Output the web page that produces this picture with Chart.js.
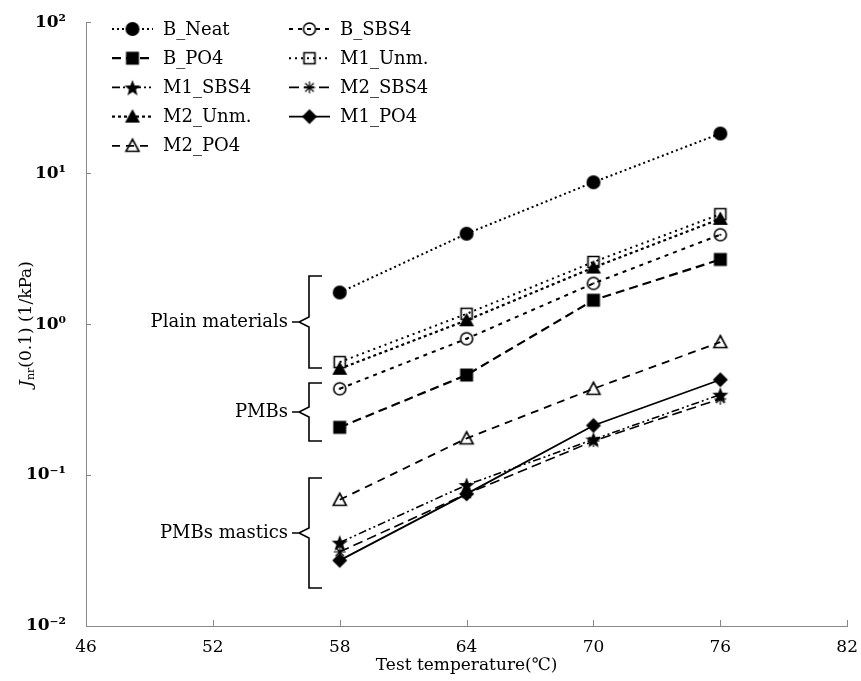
<!DOCTYPE html>
<html>
<head>
<meta charset="utf-8">
<script src="https://cdn.jsdelivr.net/npm/chart.js@4.4.1/dist/chart.umd.min.js"></script>
<style>
  html, body { margin: 0; padding: 0; background: #fff; }
  #wrap { width: 861px; height: 681px; position: relative; }
</style>
</head>
<body>
<div id="wrap"><canvas id="myChart" width="861" height="681"></canvas></div>
<script>
// test temperatures (x)
const temps = [58, 64, 70, 76];
// Jnr(0.1) values, 1/kPa
const bNeat  = [1.62, 3.97, 8.7, 18.3];
const bSbs4  = [0.373, 0.80, 1.86, 3.91];
const bPo4   = [0.207, 0.46, 1.44, 2.68];
const m1Unm  = [0.56, 1.17, 2.58, 5.35];
const m1Sbs4 = [0.0357, 0.086, 0.172, 0.341];
const m2Sbs4 = [0.031, 0.075, 0.168, 0.32];
const m2Unm  = [0.506, 1.06, 2.37, 4.98];
const m1Po4  = [0.0272, 0.075, 0.213, 0.428];
const m2Po4  = [0.0686, 0.175, 0.373, 0.76];

const xTicks = [46, 52, 58, 64, 70, 76, 82];
const yTicks = [0.01, 0.1, 1, 10, 100];
const yTickLabels = ['10\u207B\u00B2', '10\u207B\u00B9', '10\u2070', '10\u00B9', '10\u00B2'];

const FONT = '"DejaVu Serif", serif';

//build marker images
function makeMarker(kind) {
	const c = document.createElement('canvas');
	c.width = 20; c.height = 20;
	const g = c.getContext('2d');
	g.fillStyle = '#000';
	g.strokeStyle = '#000';
	g.lineWidth = 1.6;
	const cx = 10, cy = 10;
	g.beginPath();
	if (kind === 'circleFill') {
		g.arc(cx, cy, 7, 0, Math.PI * 2); g.fill();
	} else if (kind === 'circleOpen') {
		g.arc(cx, cy, 6, 0, Math.PI * 2); g.stroke();
		g.beginPath(); g.arc(cx, cy, 1.1, 0, Math.PI * 2); g.fill();
	} else if (kind === 'squareFill') {
		g.rect(cx - 6.5, cy - 6.5, 13, 13); g.fill();
	} else if (kind === 'squareOpen') {
		g.rect(cx - 5.5, cy - 5.5, 11, 11); g.stroke();
	} else if (kind === 'star5') {
		for (let i = 0; i < 10; i++) {
			const r = i % 2 === 0 ? 8.5 : 3.6;
			const a = -Math.PI / 2 + i * Math.PI / 5;
			const px = cx + r * Math.cos(a), py = cy + 1 + r * Math.sin(a);
			if (i === 0) g.moveTo(px, py); else g.lineTo(px, py);
		}
		g.closePath(); g.fill();
	} else if (kind === 'asterisk') {
		g.lineWidth = 1.2;
		for (let i = 0; i < 4; i++) {
			const a = i * Math.PI / 4;
			g.moveTo(cx - 6 * Math.cos(a), cy - 6 * Math.sin(a));
			g.lineTo(cx + 6 * Math.cos(a), cy + 6 * Math.sin(a));
		}
		g.stroke();
	} else if (kind === 'triFill') {
		g.moveTo(cx, cy - 7.5); g.lineTo(cx + 7.5, cy + 6); g.lineTo(cx - 7.5, cy + 6);
		g.closePath(); g.fill();
	} else if (kind === 'triOpen') {
		g.moveTo(cx, cy - 6.5); g.lineTo(cx + 6.5, cy + 5.5); g.lineTo(cx - 6.5, cy + 5.5);
		g.closePath(); g.stroke();
	} else if (kind === 'diamond') {
		g.moveTo(cx, cy - 7.5); g.lineTo(cx + 7.5, cy); g.lineTo(cx, cy + 7.5); g.lineTo(cx - 7.5, cy);
		g.closePath(); g.fill();
	}
	return c;
}

function pts(vals) {
	return vals.map(function (v, i) { return { x: temps[i], y: v }; });
}

function series(label, vals, marker, dash, width) {
	return {
		label: label,
		data: pts(vals),
		showLine: true,
		borderColor: '#000',
		backgroundColor: '#000',
		borderWidth: width,
		borderDash: dash,
		pointStyle: makeMarker(marker),
		pointRadius: 8,
		pointHoverRadius: 8,
		tension: 0
	};
}

const datasets = [
	series('B_Neat', bNeat, 'circleFill', [2, 3], 2),
	series('B_SBS4', bSbs4, 'circleOpen', [4, 5], 2),
	series('B_PO4', bPo4, 'squareFill', [9, 5], 2.2),
	series('M1_Unm.', m1Unm, 'squareOpen', [2, 4], 2),
	series('M1_SBS4', m1Sbs4, 'star5', [8, 3, 2, 3, 2, 3], 1.6),
	series('M2_SBS4', m2Sbs4, 'asterisk', [10, 5], 1.6),
	series('M2_Unm.', m2Unm, 'triFill', [3, 3], 2.2),
	series('M1_PO4', m1Po4, 'diamond', [], 1.8),
	series('M2_PO4', m2Po4, 'triOpen', [8, 6], 1.8)
];

// legend layout: [dataset, column, row]
const legendOrder = [
	[0, 0, 0], [1, 1, 0],
	[2, 0, 1], [3, 1, 1],
	[4, 0, 2], [5, 1, 2],
	[6, 0, 3], [7, 1, 3],
	[8, 0, 4]
];

const extras = {
	id: 'extras',
	afterDraw: function (chart) {
		const ctx = chart.ctx;
		const area = chart.chartArea;
		const xs = chart.scales.x, ys = chart.scales.y;
		ctx.save();
		// inward tick marks
		ctx.strokeStyle = '#888';
		ctx.lineWidth = 1;
		ctx.setLineDash([]);
		xTicks.forEach(function (t) {
			const px = Math.round(xs.getPixelForValue(t)) + 0.5;
			ctx.beginPath(); ctx.moveTo(px, area.bottom); ctx.lineTo(px, area.bottom - 6); ctx.stroke();
		});
		yTicks.forEach(function (t) {
			const py = Math.round(ys.getPixelForValue(t)) + 0.5;
			ctx.beginPath(); ctx.moveTo(area.left, py); ctx.lineTo(area.left + 5, py); ctx.stroke();
		});

		// legend
		ctx.fillStyle = '#000';
		ctx.font = '18px ' + FONT;
		ctx.textBaseline = 'middle';
		ctx.textAlign = 'left';
		legendOrder.forEach(function (e) {
			const ds = chart.data.datasets[e[0]];
			const x0 = e[1] === 0 ? 112 : 289;
			const y0 = 29 + e[2] * 29.2;
			ctx.strokeStyle = '#000';
			ctx.lineWidth = ds.borderWidth;
			ctx.setLineDash(ds.borderDash);
			ctx.beginPath(); ctx.moveTo(x0, y0); ctx.lineTo(x0 + 41, y0); ctx.stroke();
			ctx.setLineDash([]);
			ctx.drawImage(ds.pointStyle, x0 + 20.5 - 10, y0 - 10);
			ctx.fillText(ds.label, x0 + 51, y0 + 1);
		});

		// group braces
		ctx.font = '18px ' + FONT;
		function brace(top, bottom, label) {
			const xl = 309, mid = (top + bottom) / 2;
			ctx.strokeStyle = '#000';
			ctx.lineWidth = 1.6;
			ctx.beginPath();
			ctx.moveTo(xl + 13, top); ctx.lineTo(xl, top); ctx.lineTo(xl, mid - 5);
			ctx.lineTo(xl - 10, mid); ctx.lineTo(xl, mid + 5); ctx.lineTo(xl, bottom);
			ctx.lineTo(xl + 13, bottom);
			ctx.moveTo(xl - 10, mid); ctx.lineTo(xl - 17, mid);
			ctx.stroke();
			ctx.textAlign = 'right';
			ctx.fillText(label, xl - 21, mid);
		}
		brace(276, 368, 'Plain materials');
		brace(383, 441, 'PMBs');
		brace(478, 588, 'PMBs mastics');

		// y axis title
		ctx.save();
		ctx.translate(25, 324);
		ctx.rotate(-Math.PI / 2);
		ctx.textAlign = 'left';
		ctx.textBaseline = 'alphabetic';
		const t1 = 'J', t2 = 'nr', t3 = '(0.1) (1/kPa)';
		ctx.font = 'italic 17px ' + FONT;
		const w1 = ctx.measureText(t1).width;
		ctx.font = '11px ' + FONT;
		const w2 = ctx.measureText(t2).width;
		ctx.font = '17px ' + FONT;
		const w3 = ctx.measureText(t3).width;
		let x = -(w1 + w2 + w3) / 2;
		ctx.font = 'italic 17px ' + FONT;
		ctx.fillText(t1, x, 6); x += w1;
		ctx.font = '11px ' + FONT;
		ctx.fillText(t2, x, 9); x += w2;
		ctx.font = '17px ' + FONT;
		ctx.fillText(t3, x, 6);
		ctx.restore();

		// x axis title
		ctx.textAlign = 'center';
		ctx.textBaseline = 'middle';
		ctx.font = '17px ' + FONT;
		ctx.fillText('Test temperature(\u2103)', (area.left + area.right) / 2, 666);
		ctx.restore();
	}
};

var ctx = document.getElementById('myChart').getContext('2d');
var myChart = new Chart(ctx, {
	type: 'scatter',
	data: { datasets: datasets },
	options: {
		responsive: false,
		animation: false,
		layout: { padding: { left: 0, right: 1, top: 20, bottom: 0 } },
		plugins: {
			legend: { display: false },
			tooltip: { enabled: false }
		},
		scales: {
			x: {
				type: 'linear',
				min: 46, max: 82,
				afterBuildTicks: function (s) { s.ticks = xTicks.map(function (v) { return { value: v }; }); },
				afterFit: function (s) { s.height = 55; },
				grid: { display: false },
				border: { display: true, color: '#888', width: 1 },
				ticks: {
					color: '#000',
					padding: 3,
					maxRotation: 0,
					font: { family: FONT, size: 17 }
				}
			},
			y: {
				type: 'logarithmic',
				min: 0.01, max: 100,
				afterBuildTicks: function (s) { s.ticks = yTicks.map(function (v) { return { value: v }; }); },
				afterFit: function (s) { s.width = 86; },
				grid: { display: false },
				border: { display: true, color: '#888', width: 1 },
				ticks: {
					color: '#000',
					padding: 12,
					font: { family: FONT, size: 17, weight: 'bold' },
					callback: function (v) {
						const i = yTicks.indexOf(v);
						return i >= 0 ? yTickLabels[i] : '';
					}
				}
			}
		}
	},
	plugins: [extras]
});
</script>
</body>
</html>
